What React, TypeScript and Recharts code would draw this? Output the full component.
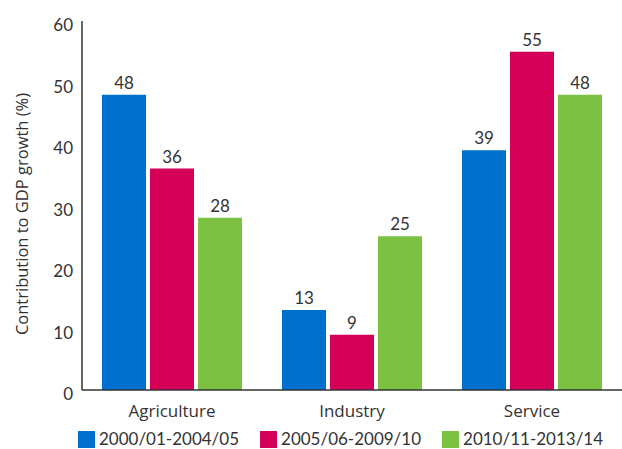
import { Bar, BarChart, LabelList, Legend, XAxis, YAxis } from "recharts";

const sectors = ["Agriculture", "Industry", "Service"];
const period1 = [48, 13, 39];
const period2 = [36, 9, 55];
const period3 = [28, 25, 48];
const yTicks = [0, 10, 20, 30, 40, 50, 60];

const series = [
  { key: "p1", name: "2000/01-2004/05", color: "#0070CE" },
  { key: "p2", name: "2005/06-2009/10", color: "#D50057" },
  { key: "p3", name: "2010/11-2013/14", color: "#7DC142" },
];

const data = sectors.map((sector, i) => ({
  sector,
  p1: period1[i],
  p2: period2[i],
  p3: period3[i],
}));

const FONT = "Lato, 'Open Sans', sans-serif";
const WIDE = "'Open Sans', Lato, sans-serif";
const TEXT = "#333333";

function LegendRow() {
  return (
    <div
      style={{
        display: "flex",
        gap: 21,
        paddingLeft: 78,
        height: 20,
        alignItems: "center",
        fontFamily: FONT,
        fontSize: 17,
        lineHeight: "18px",
        color: TEXT,
      }}
    >
      {series.map((s) => (
        <div key={s.key} style={{ display: "flex", alignItems: "center", gap: 4 }}>
          <span style={{ width: 17, height: 17, background: s.color, display: "inline-block" }} />
          <span>{s.name}</span>
        </div>
      ))}
    </div>
  );
}

export default function App() {
  return (
    <div style={{ position: "absolute", left: 0, top: 0, background: "#fff" }}>
      <BarChart
        width={622}
        height={449}
        data={data}
        margin={{ top: 21, right: 0, bottom: 9, left: 0 }}
        barGap={4}
        barSize={44}
      >
        <XAxis
          dataKey="sector"
          stroke={TEXT}
          strokeWidth={1.5}
          tickLine={false}
          tickSize={0}
          tickMargin={15}
          height={30}
          tick={{ fill: TEXT, fontSize: 17, fontFamily: WIDE }}
        />
        <YAxis
          domain={[0, 60]}
          ticks={yTicks}
          width={82}
          stroke={TEXT}
          strokeWidth={1.5}
          tickLine={false}
          tickSize={0}
          tickMargin={9}
          tick={{ fill: TEXT, fontSize: 17, fontFamily: FONT, dy: 4 }}
          label={{
            content: () => (
              <text
                transform="translate(21,214) rotate(-90)"
                textAnchor="middle"
                dominantBaseline="central"
                fill={TEXT}
                fontSize={16.5}
                fontFamily={WIDE}
              >
                Contribution to GDP growth (%)
              </text>
            ),
          }}
        />
        <Legend
          verticalAlign="bottom"
          content={() => <LegendRow />}
          wrapperStyle={{ bottom: 0, left: 0, width: 622, height: 20 }}
        />
        {series.map((s) => (
          <Bar key={s.key} dataKey={s.key} name={s.name} fill={s.color} isAnimationActive={false}>
            <LabelList
              dataKey={s.key}
              position="top"
              offset={6}
              fill={TEXT}
              fontSize={17}
              fontFamily={FONT}
            />
          </Bar>
        ))}
      </BarChart>
    </div>
  );
}
